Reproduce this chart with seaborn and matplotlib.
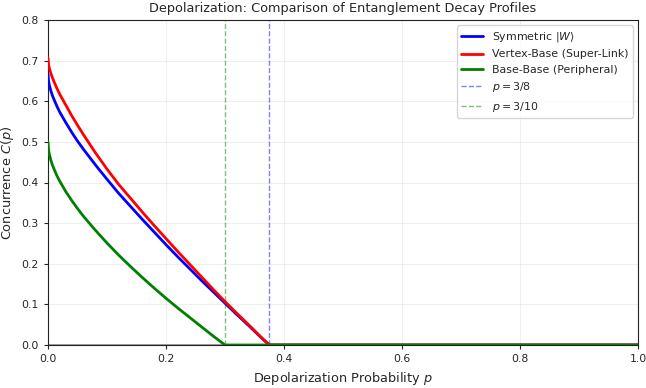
import matplotlib
matplotlib.use("Agg")
import matplotlib.pyplot as plt
import seaborn as sns
import pandas as pd

p_values = [0, 0.001, 0.0025, 0.005, 0.0075, 0.01, 0.015, 0.02, 0.03, 0.04, 0.05, 0.06,
            0.08, 0.1, 0.12, 0.14, 0.16, 0.18, 0.2, 0.22, 0.24, 0.26, 0.28, 0.3, 0.32,
            0.34, 0.36, 0.375, 0.4, 0.6, 0.8, 1.0]
symmetric_w = [0.667, 0.649, 0.638, 0.625, 0.614, 0.605, 0.588, 0.573, 0.548, 0.524, 0.502, 0.482,
               0.444, 0.408, 0.373, 0.341, 0.309, 0.278, 0.247, 0.217, 0.188, 0.159, 0.131, 0.103, 0.075,
               0.048, 0.020, 0.0, 0.0, 0.0, 0.0, 0.0]
vertex_base = [0.707, 0.690, 0.680, 0.668, 0.658, 0.649, 0.632, 0.617, 0.591, 0.565, 0.541, 0.518,
               0.474, 0.433, 0.395, 0.361, 0.327, 0.294, 0.262, 0.230, 0.199, 0.168, 0.137, 0.107, 0.078,
               0.050, 0.021, 0.0, 0.0, 0.0, 0.0, 0.0]
base_base = [0.500, 0.480, 0.468, 0.454, 0.443, 0.434, 0.417, 0.403, 0.378, 0.356, 0.336, 0.317,
             0.283, 0.251, 0.221, 0.193, 0.166, 0.140, 0.115, 0.091, 0.068, 0.045, 0.022, 0.0, 0.0,
             0.0, 0.0, 0.0, 0.0, 0.0, 0.0, 0.0]
series_names = [r"Symmetric $|W\rangle$", "Vertex-Base (Super-Link)", "Base-Base (Peripheral)"]
thresholds = [3 / 8, 3 / 10]
threshold_labels = [r"$p = 3/8$", r"$p = 3/10$"]

rows = []
for name, vals in zip(series_names, [symmetric_w, vertex_base, base_base]):
    for p, c in zip(p_values, vals):
        rows.append({"p": p, "C": c, "series": name})
df = pd.DataFrame(rows)

sns.set_style("white")
plt.rcParams["font.family"] = ["DejaVu Sans"]

fig = plt.figure(figsize=(6.46, 3.88), dpi=100)
ax = fig.add_axes([48 / 646, 1 - 345 / 388, 590 / 646, 325 / 388])

ax.axhline(0, color="gray", linewidth=1.3, alpha=0.8, zorder=1)
ax.axvline(0, color="gray", linewidth=1.3, alpha=0.8, zorder=1)
sns.lineplot(data=df, x="p", y="C", hue="series", hue_order=series_names,
             palette=["blue", "red", "green"], linewidth=2, ax=ax, legend=True, zorder=3)
for t, lab, col in zip(thresholds, threshold_labels, ["blue", "green"]):
    ax.axvline(t, color=col, linestyle="--", alpha=0.5, linewidth=1, label=lab, zorder=2)

ax.set_xlim(0, 1)
ax.set_ylim(0, 0.8)
ax.grid(True, alpha=0.3)
ax.tick_params(labelsize=7.8, length=3, width=0.8, direction="out", left=True, bottom=True)
for s in ax.spines.values():
    s.set_color("#222222")
    s.set_linewidth(0.8)
ax.set_xlabel(r"Depolarization Probability $p$", fontsize=9.3)
ax.set_ylabel(r"Concurrence $C(p)$", fontsize=9.3)
ax.set_title("Depolarization: Comparison of Entanglement Decay Profiles", fontsize=9.3)
handles, labels = ax.get_legend_handles_labels()
ax.legend(handles, labels, loc="upper right", fontsize=7.9, frameon=True)

fig.savefig("out.png", dpi=100)
